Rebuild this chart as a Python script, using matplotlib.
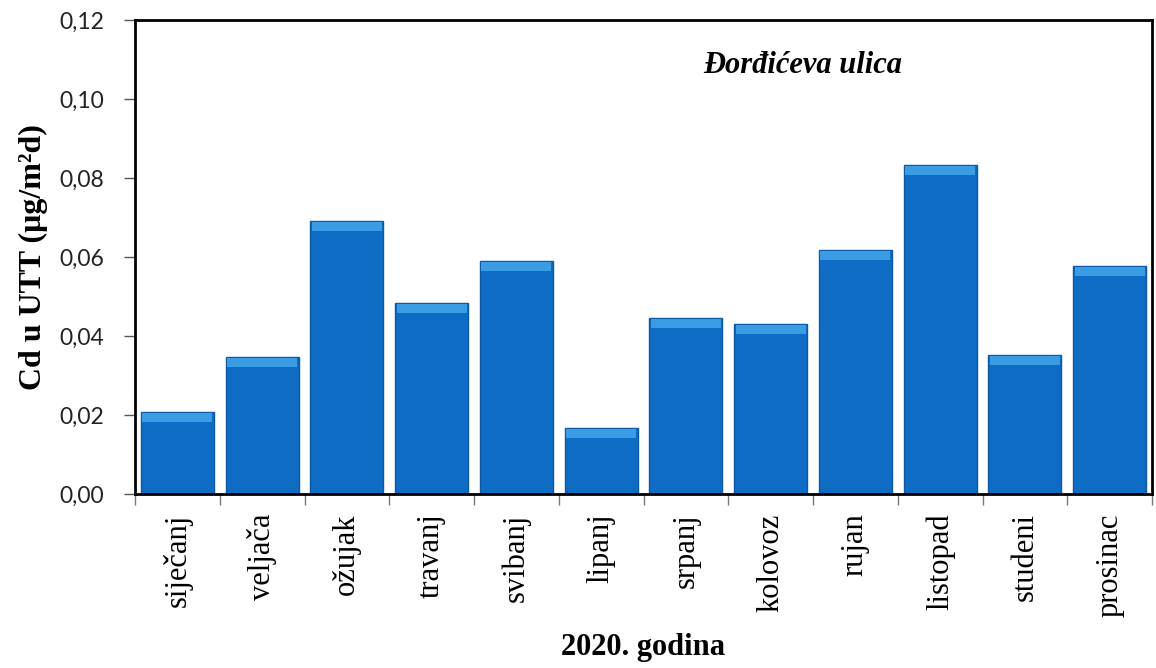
import matplotlib.pyplot as plt
import numpy as np

months = ["siječanj", "veljača", "ožujak", "travanj", "svibanj", "lipanj",
          "srpanj", "kolovoz", "rujan", "listopad", "studeni", "prosinac"]
cd_values = [0.0208, 0.0347, 0.0692, 0.0484, 0.0590, 0.0167,
             0.0446, 0.0430, 0.0618, 0.0833, 0.0352, 0.0577]
y_ticks = [0.00, 0.02, 0.04, 0.06, 0.08, 0.10, 0.12]

fig = plt.figure(figsize=(11.56, 6.68), dpi=100)
ax = fig.add_axes([135 / 1156, 1 - 494 / 668, (1152 - 135) / 1156, (494 - 20) / 668])

x = np.arange(len(months))
width = 0.86
ax.bar(x, cd_values, width=width, color="#0e6cc4", edgecolor="#0d5aa3", linewidth=1.0, zorder=2)
# bevel look: lighter strip at the top of each bar
bevel = 0.0022
ax.bar(x, [bevel] * len(x), width=width * 0.96, bottom=np.array(cd_values) - bevel - 0.0003,
       color="#3b9ce6", linewidth=0, zorder=3)

ax.set_xlim(-0.5, len(months) - 0.5)
ax.set_ylim(0, 0.12)
ax.set_yticks(y_ticks)
ax.set_yticklabels([f"{v:.2f}".replace(".", ",") for v in y_ticks])
ax.set_xticks(x)
ax.set_xticklabels(months, rotation=90)
for lbl in ax.get_xticklabels():
    lbl.set_fontfamily("Liberation Serif")
    lbl.set_fontsize(22)
for lbl in ax.get_yticklabels():
    lbl.set_fontfamily("Lato")
    lbl.set_fontsize(16.5)
    lbl.set_color("#222222")
ax.set_xticks(np.arange(len(months) + 1) - 0.5, minor=True)
ax.tick_params(axis="x", which="major", length=0, pad=14)
ax.tick_params(axis="x", which="minor", length=8, width=1, color="#777777")
ax.tick_params(axis="y", length=8, width=1, direction="out", pad=14, color="#555555")

for sp in ax.spines.values():
    sp.set_linewidth(2)
    sp.set_color("black")

ax.set_ylabel("Cd u UTT (μg/m²d)", fontsize=23, fontweight="bold",
              family="Liberation Serif", labelpad=8)
ax.set_xlabel("2020. godina", fontsize=22, fontweight="bold", family="Liberation Serif", labelpad=12)
ax.text(0.657, 0.905, "Đorđićeva ulica", transform=ax.transAxes, fontsize=22,
        fontweight="bold", fontstyle="italic", family="Liberation Serif", ha="center", va="center")

fig.savefig("out.png", dpi=100)
